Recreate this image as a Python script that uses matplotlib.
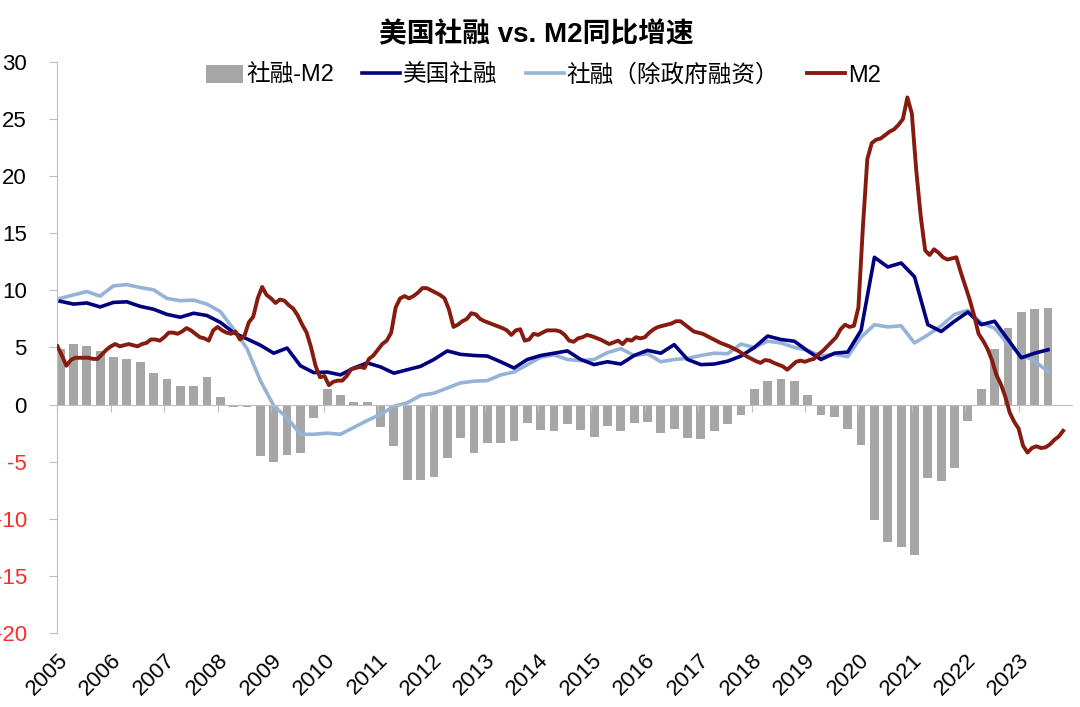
import numpy as np
import matplotlib.pyplot as plt
from matplotlib.patches import Patch
from matplotlib.lines import Line2D

plt.rcParams['font.family'] = ['Liberation Sans', 'Noto Sans CJK SC']

# 社融-M2, quarterly 2005Q1 .. 2023Q3
spread = [4.9, 5.3, 5.1, 4.7, 4.2, 4.0, 3.7, 2.8, 2.25, 1.6, 1.6, 2.4, 0.65, -0.25, -0.2,
          -4.5, -5.0, -4.4, -4.2, -1.15, 1.35, 0.8, 0.2, 0.2, -1.95, -3.6, -6.6, -6.6, -6.3,
          -4.7, -2.9, -4.2, -3.4, -3.4, -3.2, -1.6, -2.2, -2.3, -1.7, -2.2, -2.8, -1.9, -2.3,
          -1.65, -1.5, -2.5, -2.1, -2.9, -3.0, -2.3, -1.7, -0.9, 1.4, 2.05, 2.2, 2.1, 0.8,
          -0.9, -1.1, -2.1, -3.5, -10.1, -12.0, -12.5, -13.2, -6.4, -6.7, -5.55, -1.4, 1.4,
          4.9, 6.7, 8.1, 8.4, 8.5]

# 美国社融, quarterly
tsf = [9.05, 8.8, 8.9, 8.55, 8.95, 9.0, 8.6, 8.35, 7.9, 7.65, 8.0, 7.8, 7.2, 6.3, 5.75,
       5.2, 4.5, 4.95, 3.4, 2.8, 2.85, 2.6, 3.2, 3.65, 3.3, 2.75, 3.05, 3.35, 3.95, 4.7,
       4.4, 4.3, 4.25, 3.75, 3.2, 3.95, 4.3, 4.5, 4.7, 3.95, 3.5, 3.75, 3.55, 4.3, 4.75,
       4.5, 5.25, 3.95, 3.5, 3.55, 3.8, 4.25, 5.0, 6.0, 5.7, 5.55, 4.7, 3.95, 4.5, 4.6,
       6.5, 12.9, 12.05, 12.4, 11.2, 7.0, 6.4, 7.3, 8.1, 7.0, 7.3, 5.7, 4.1, 4.5, 4.8]

# 社融（除政府融资）, quarterly
tsf_ex_gov = [9.3, 9.6, 9.9, 9.5, 10.4, 10.5, 10.25, 10.05, 9.3, 9.1, 9.15, 8.8, 8.15, 6.6,
              4.9, 2.1, -0.1, -1.15, -2.6, -2.6, -2.5, -2.6, -2.0, -1.4, -0.85, -0.15, 0.15,
              0.8, 1.0, 1.45, 1.9, 2.05, 2.1, 2.6, 2.85, 3.5, 4.15, 4.35, 3.95, 3.85, 3.95,
              4.55, 4.9, 4.3, 4.45, 3.75, 3.95, 4.05, 4.3, 4.5, 4.45, 5.3, 5.0, 5.55, 5.4,
              5.0, 4.75, 4.25, 4.4, 4.2, 5.9, 7.0, 6.8, 6.9, 5.4, 6.1, 6.9, 7.9, 8.25, 7.15,
              6.7, 5.3, 4.4, 3.8, 2.9]

# M2 同比, monthly 2005-01 .. 2023-11
m2 = [5.1, 4.3, 3.4, 3.9, 4.1, 4.1, 4.1, 4.1, 4.0, 4.0, 4.4, 4.8,
      5.1, 5.3, 5.1, 5.2, 5.3, 5.2, 5.1, 5.3, 5.4, 5.7, 5.7, 5.6,
      5.9, 6.3, 6.3, 6.2, 6.4, 6.7, 6.5, 6.2, 5.9, 5.8, 5.6, 6.5,
      6.8, 6.5, 6.3, 6.2, 6.4, 5.7, 6.0, 7.2, 7.7, 9.3, 10.3, 9.6,
      9.3, 8.9, 9.2, 9.1, 8.7, 8.4, 7.8, 7.0, 6.3, 5.0, 3.4, 2.4,
      2.5, 1.7, 2.0, 2.1, 2.1, 2.5, 3.1, 3.2, 3.3, 3.2, 4.0, 4.3,
      4.8, 5.3, 5.6, 6.3, 8.5, 9.3, 9.5, 9.3, 9.5, 9.8, 10.2, 10.2,
      10.0, 9.8, 9.6, 9.3, 8.3, 6.8, 7.0, 7.3, 7.5, 8.0, 7.9, 7.5,
      7.3, 7.15, 7.0, 6.85, 6.7, 6.5, 6.1, 6.5, 6.6, 5.6, 5.7, 6.2,
      6.1, 6.3, 6.5, 6.5, 6.5, 6.4, 6.1, 5.6, 5.5, 5.8, 5.9, 6.1,
      6.0, 5.85, 5.7, 5.5, 5.3, 5.45, 5.6, 5.3, 5.7, 5.6, 5.9, 5.8,
      5.9, 6.3, 6.6, 6.8, 6.9, 7.0, 7.1, 7.3, 7.3, 7.0, 6.7, 6.4,
      6.3, 6.2, 6.0, 5.8, 5.6, 5.4, 5.25, 5.1, 4.9, 4.7, 4.45, 4.2,
      4.0, 3.8, 3.65, 3.9, 3.85, 3.65, 3.5, 3.35, 3.05, 3.4, 3.75, 3.85,
      3.75, 3.9, 4.0, 4.4, 4.7, 5.1, 5.5, 5.9, 6.6, 7.0, 6.8, 6.9,
      8.5, 15.5, 21.5, 22.9, 23.2, 23.3, 23.6, 23.9, 24.1, 24.5, 25.0, 26.9,
      25.5, 20.5, 16.5, 13.5, 13.1, 13.6, 13.3, 12.9, 12.7, 12.8, 12.9, 11.6,
      10.4, 9.2, 7.8, 6.2, 5.6, 4.9, 3.9, 2.6, 1.8, 0.7, -0.7, -1.5,
      -2.1, -3.6, -4.2, -3.8, -3.65, -3.8, -3.75, -3.5, -3.1, -2.8, -2.3]

years = list(range(2005, 2024))
yticks = list(range(-20, 31, 5))

xq = 2005.05 + 0.25 * np.arange(len(spread))
xm = 2005 + np.arange(len(m2)) / 12

c_bar = '#A6A6A6'
c_tsf = '#000080'
c_ex = '#95B3D7'
c_m2 = '#861C10'

fig = plt.figure(figsize=(10.8, 7.07), dpi=100)
ax = fig.add_axes([0.0532, 0.1047, 0.9394, 0.8076])

ax.bar(xq, spread, width=0.165, color=c_bar, zorder=1)
ax.plot(xq, tsf, color=c_tsf, lw=2.6, zorder=3)
ax.plot(xq, tsf_ex_gov, color=c_ex, lw=2.6, zorder=2)
ax.plot(xm, m2, color=c_m2, lw=2.8, zorder=4)

ax.set_xlim(2005, 2024)
ax.set_ylim(-20, 30)
ax.set_yticks(yticks)
ax.set_yticklabels([str(v) for v in yticks])
for lab, v in zip(ax.get_yticklabels(), yticks):
    lab.set_color('#FF2A2A' if v < 0 else 'black')

for s in ['top', 'right']:
    ax.spines[s].set_visible(False)
ax.spines['left'].set_color('#BFBFBF')
ax.spines['bottom'].set_color('#BFBFBF')
ax.spines['bottom'].set_position(('data', 0))
ax.tick_params(axis='y', direction='out', length=6, color='#BFBFBF', labelsize=16, pad=16)
ax.set_xticks(years)
ax.tick_params(axis='x', direction='out', length=5, color='#BFBFBF', labelbottom=False)

sec = ax.secondary_xaxis(0.0)
sec.set_xticks(years)
sec.set_xticklabels([str(y) for y in years], rotation=45, ha='right', va='top',
                    rotation_mode='anchor')
sec.tick_params(length=0, labelsize=16, pad=12)
sec.spines['bottom'].set_visible(False)

fig.text(0.497, 0.951, '美国社融 vs. M2同比增速', fontsize=20, fontweight='bold',
         ha='center', va='center')

handles = [Patch(facecolor=c_bar, edgecolor='none'),
           Line2D([], [], color=c_tsf, lw=2.6),
           Line2D([], [], color=c_ex, lw=2.6),
           Line2D([], [], color=c_m2, lw=2.8)]
labels = ['社融-M2', '美国社融', '社融（除政府融资）', 'M2']
fig.legend(handles, labels, loc='center', bbox_to_anchor=(0.503, 0.893), ncol=4,
           frameon=False, fontsize=17, handlelength=1.6, handletextpad=0.12,
           columnspacing=1.2, handleheight=0.8, borderaxespad=0)

fig.savefig('out.png', dpi=100)
